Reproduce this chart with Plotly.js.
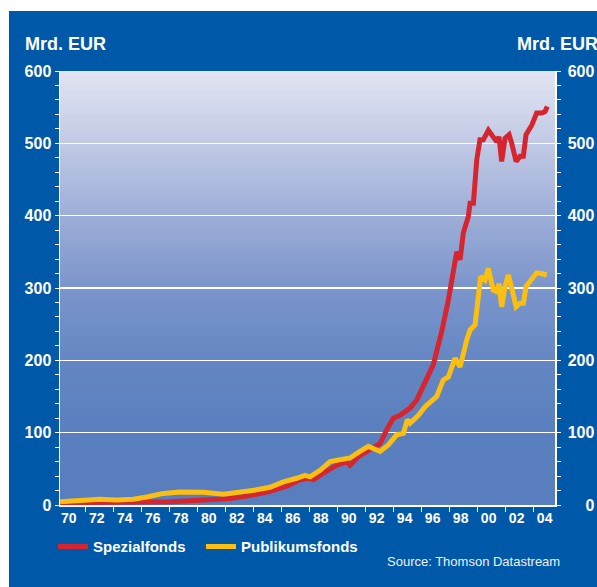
<!DOCTYPE html>
<html><head><meta charset="utf-8">
<script src="https://cdn.plot.ly/plotly-3.0.1.min.js"></script>
<style>
html,body{margin:0;padding:0;background:#ffffff;width:597px;height:587px;overflow:hidden}
#chart{position:absolute;left:9px;top:11px;width:588px;height:576px}
</style>
</head><body><div id="chart"></div>
<script>
// ---- data (Mrd. EUR) ----
const spezialYears = [1970.16, 1973.02, 1975.88, 1978.02, 1979.45, 1980.88, 1982.31, 1983.74, 1985.16, 1986.36, 1987.31, 1987.9, 1988.26, 1988.97, 1989.93, 1990.64, 1990.88, 1991.47, 1992.07, 1992.54, 1993.02, 1993.5, 1993.97, 1994.45, 1995.16, 1995.64, 1996.24, 1996.83, 1997.19, 1997.43, 1997.9, 1998.26, 1998.5, 1998.74, 1998.97, 1999.33, 1999.45, 1999.69, 1999.93, 2000.16, 2000.4, 2000.76, 2001.11, 2001.36, 2001.52, 2001.71, 2001.95, 2002.24, 2002.43, 2002.74, 2003.02, 2003.26, 2003.45, 2003.86, 2004.21, 2004.57, 2004.81, 2004.97];
const spezialValues = [3, 3, 3.5, 4.6, 6, 8, 9, 13, 19, 26, 35, 37, 35, 44, 55, 60, 55, 67, 74, 81, 85, 104, 120, 124, 134, 145, 170, 194, 222, 240, 283, 329, 350, 339, 376, 399, 417, 417, 477, 505, 505, 518, 509, 502, 509, 475, 507, 512, 500, 475, 482, 482, 512, 525, 542, 542, 544, 551];

const publikumYears = [1970.16, 1971.59, 1973.02, 1974.21, 1975.4, 1976.36, 1977.54, 1978.74, 1980.4, 1981.83, 1983.02, 1984.21, 1985.16, 1986.11, 1987.07, 1987.66, 1988.02, 1988.74, 1989.45, 1989.93, 1990.4, 1990.88, 1991.59, 1992.19, 1992.54, 1993.02, 1993.61, 1994.21, 1994.69, 1994.97, 1995.16, 1995.76, 1996.24, 1996.71, 1997.07, 1997.54, 1997.9, 1998.38, 1998.74, 1999.21, 1999.45, 1999.81, 2000.04, 2000.21, 2000.52, 2000.76, 2001.11, 2001.36, 2001.52, 2001.71, 2001.95, 2002.19, 2002.43, 2002.74, 2003.02, 2003.26, 2003.45, 2003.86, 2004.21, 2004.57, 2004.93];
const publikumValues = [4.6, 6, 8, 7, 8, 11, 16, 18, 17.5, 15, 17.5, 21, 24.5, 32, 37, 41, 39, 48, 60, 62, 64, 65, 74, 81, 78, 74, 83, 97, 99, 118, 113, 124, 136, 143, 150, 173, 177, 203, 191, 228, 242, 249, 293, 316, 311, 327, 297, 295, 306, 274, 302, 318, 300, 274, 279, 279, 302, 311, 321, 320, 318];

const seriesNames = ['Spezialfonds', 'Publikumsfonds'];
const xTickYears = [1970, 1972, 1974, 1976, 1978, 1980, 1982, 1984, 1986, 1988, 1990, 1992, 1994, 1996, 1998, 2000, 2002, 2004];
const xTickLabels = ['70', '72', '74', '76', '78', '80', '82', '84', '86', '88', '90', '92', '94', '96', '98', '00', '02', '04'];
const yTickValues = [0, 100, 200, 300, 400, 500, 600];
const yTickLabels = ['0', '100', '200', '300', '400', '500', '600'];
const unitLabel = 'Mrd. EUR';
const sourceText = 'Source: Thomson Datastream';

// ---- styling ----
const FONT = 'Liberation Sans, Arial, Helvetica, sans-serif';
const OUTER = '#0059a8';
const RED = '#d6252e';
const YELLOW = '#fbbf12';
const LABEL_OFFSET = 0.78; // labels sit inside the two-year band

// vertical gradient of the plot area (top -> bottom)
const gradStops = [
  [0.00, [226, 229, 242]],
  [0.17, [192, 201, 229]],
  [0.33, [158, 174, 216]],
  [0.50, [123, 149, 203]],
  [0.67, [100, 134, 195]],
  [0.85, [90, 127, 190]],
  [1.00, [88, 126, 189]]
];
function gradColor(t) {
  for (let i = 1; i < gradStops.length; i++) {
    if (t <= gradStops[i][0]) {
      const a = gradStops[i - 1], b = gradStops[i];
      const f = (t - a[0]) / (b[0] - a[0]);
      const c = a[1].map((v, k) => Math.round(v + (b[1][k] - v) * f));
      return 'rgb(' + c.join(',') + ')';
    }
  }
  return 'rgb(' + gradStops[gradStops.length - 1][1].join(',') + ')';
}
const shapes = [];
const N = 90;
for (let i = 0; i < N; i++) {
  const yTop = 1 - i / N;
  const yBot = 1 - (i + 1) / N;
  shapes.push({
    type: 'rect', xref: 'paper', yref: 'paper', layer: 'below',
    x0: 0, x1: 1, y0: Math.max(0, yBot - 0.003), y1: yTop,
    fillcolor: gradColor((i + 0.5) / N), line: {width: 0}
  });
}

const traces = [
  {x: spezialYears, y: spezialValues, name: seriesNames[0], type: 'scatter', mode: 'lines',
   line: {color: RED, width: 5}, hoverinfo: 'skip', legendwidth: 103},
  {x: publikumYears, y: publikumValues, name: seriesNames[1], type: 'scatter', mode: 'lines',
   yaxis: 'y2',
   line: {color: YELLOW, width: 5}, hoverinfo: 'skip', legendwidth: 130}
];

const yCommon = {
  range: [0, 600], tickmode: 'array', tickvals: yTickValues,
  ticks: 'outside', ticklen: 4, tickwidth: 1, tickcolor: 'white',
  minor: {tickmode: 'linear', tick0: 0, dtick: 20, ticks: 'outside', ticklen: 4, tickwidth: 1, tickcolor: 'white', showgrid: false},
  showline: true, linecolor: 'white', linewidth: 1.5,
  zeroline: false, fixedrange: true,
  tickfont: {family: FONT, size: 16, color: 'white', weight: 'bold'}
};

const layout = {
  width: 588, height: 576,
  margin: {l: 51, r: 42, t: 60, b: 82, pad: 0},
  paper_bgcolor: OUTER,
  plot_bgcolor: 'rgb(88,126,189)',
  showlegend: true,
  font: {family: FONT, color: 'white'},
  xaxis: {
    range: [1970.16, 2005.52], tickmode: 'array',
    tickvals: xTickYears.map(y => y + LABEL_OFFSET), ticktext: xTickLabels,
    ticks: '', showgrid: false, zeroline: false,
    minor: {tickmode: 'linear', tick0: 1970, dtick: 2, ticks: 'outside', ticklen: 5, tickwidth: 1, tickcolor: 'white', showgrid: false},
    showline: true, linecolor: 'white', linewidth: 1.5,
    tickfont: {family: FONT, size: 14, color: 'white', weight: 'bold'},
    fixedrange: true
  },
  yaxis: Object.assign({}, yCommon, {
    ticktext: yTickLabels, showgrid: true, gridcolor: 'white', gridwidth: 1.3, side: 'left'
  }),
  yaxis2: Object.assign({}, yCommon, {
    overlaying: 'y', side: 'right', showgrid: false, ticklabelstandoff: 4,
    ticktext: yTickLabels.map(t => '\u2007'.repeat(3 - t.length) + t)
  }),
  legend: {
    orientation: 'h', x: -0.0141, xanchor: 'left', y: -0.096, yanchor: 'middle',
    bgcolor: 'rgba(0,0,0,0)', borderwidth: 0,
    font: {family: FONT, size: 15, color: 'white', weight: 'bold'}
  },
  shapes: shapes,
  annotations: [
    {text: unitLabel, xref: 'paper', yref: 'paper', x: -0.0747, y: 1.062, xanchor: 'left', yanchor: 'middle',
     showarrow: false, font: {family: FONT, size: 18, color: 'white', weight: 'bold'}},
    {text: unitLabel, xref: 'paper', yref: 'paper', x: 0.9192, y: 1.062, xanchor: 'left', yanchor: 'middle',
     showarrow: false, font: {family: FONT, size: 18, color: 'white', weight: 'bold'}},
    {text: sourceText, xref: 'paper', yref: 'paper', x: 1.0141, y: -0.1306, xanchor: 'right', yanchor: 'middle',
     showarrow: false, font: {family: FONT, size: 13, color: '#eef1f8'}}
  ]
};

Plotly.newPlot('chart', traces, layout, {displayModeBar: false, staticPlot: true});
</script>
</body></html>
